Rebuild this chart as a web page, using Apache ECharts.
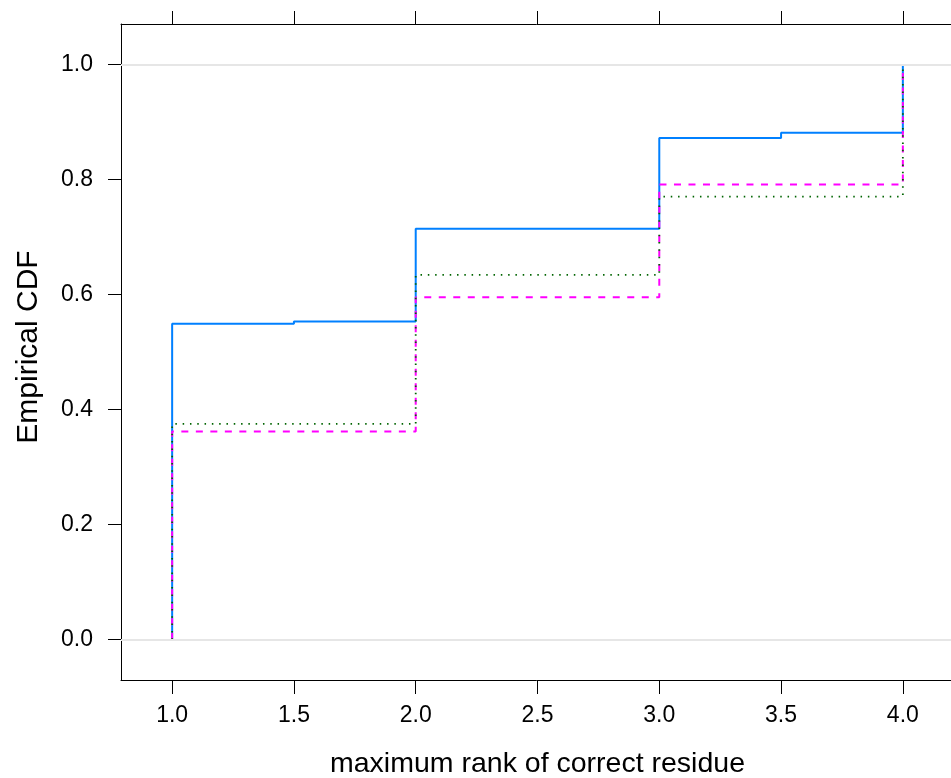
<!DOCTYPE html>
<html>
<head>
<meta charset="utf-8">
<script src="https://cdn.jsdelivr.net/npm/echarts@6/dist/echarts.min.js"></script>
<style>
  html, body { margin: 0; padding: 0; background: #ffffff; }
  #chart { width: 951px; height: 778px; }
</style>
</head>
<body>
<div id="chart"></div>
<script>
// Empirical CDF of the maximum rank of the correct residue, three groups.
// Each group: x positions where the CDF jumps, and the CDF level reached there.
const blueX = [1, 1, 1.5, 2, 3, 3.5, 4];
const blueCdf = [0, 0.549, 0.553, 0.714, 0.872, 0.881, 1.0];

const magentaX = [1, 1, 2, 3, 4];
const magentaCdf = [0, 0.362, 0.595, 0.791, 1.0];

const greenX = [1, 1, 2, 3, 4];
const greenCdf = [0, 0.375, 0.634, 0.770, 1.0];

const xTicks = [1.0, 1.5, 2.0, 2.5, 3.0, 3.5, 4.0];
const yTicks = [0.0, 0.2, 0.4, 0.6, 0.8, 1.0];
const refLevels = [0, 1];

const xTitle = 'maximum rank of correct residue';
const yTitle = 'Empirical CDF';

const pairs = (xs, ys) => xs.map((x, i) => [x, ys[i]]);

const font = '"Liberation Sans", Arial, Helvetica, sans-serif';
const axisLineStyle = { color: '#000000', width: 1 };

const chart = echarts.init(document.getElementById('chart'), null, { renderer: 'canvas' });

chart.setOption({
  animation: false,
  backgroundColor: '#ffffff',
  grid: { left: 121, top: 24, width: 833, height: 656, containLabel: false, outerBoundsMode: 'none' },
  xAxis: [
    {
      type: 'value', position: 'bottom', min: 0.79, max: 4.21,
      name: xTitle, nameLocation: 'middle', nameGap: 70,
      nameTextStyle: { fontFamily: font, fontSize: 28.5, color: '#000000' },
      axisLine: { show: true, onZero: false, lineStyle: axisLineStyle },
      axisTick: { show: true, inside: false, length: 14, customValues: xTicks, lineStyle: axisLineStyle },
      axisLabel: {
        show: true, margin: 24, customValues: xTicks,
        fontFamily: font, fontSize: 23, color: '#000000',
        formatter: v => Number(v).toFixed(1)
      },
      splitLine: { show: false }
    },
    {
      type: 'value', position: 'top', min: 0.79, max: 4.21,
      axisLine: { show: true, onZero: false, lineStyle: axisLineStyle },
      axisTick: { show: true, inside: false, length: 13, customValues: xTicks, lineStyle: axisLineStyle },
      axisLabel: { show: false },
      splitLine: { show: false }
    }
  ],
  yAxis: {
    type: 'value', min: -0.07, max: 1.07,
    name: yTitle, nameLocation: 'middle', nameGap: 77, nameRotate: 90,
    nameTextStyle: { fontFamily: font, fontSize: 30, color: '#000000', padding: [0, 0, 0, 10] },
    axisLine: { show: true, onZero: false, lineStyle: axisLineStyle },
    axisTick: { show: true, inside: false, length: 13, customValues: yTicks, lineStyle: axisLineStyle },
    axisLabel: {
      show: true, margin: 28, customValues: yTicks,
      fontFamily: font, fontSize: 23, color: '#000000',
      formatter: v => Number(v).toFixed(1)
    },
    splitLine: { show: false }
  },
  series: [
    {
      name: 'group 1', type: 'line', step: 'end', showSymbol: false,
      data: pairs(blueX, blueCdf),
      lineStyle: { color: '#0080ff', width: 2, type: 'solid' },
      markLine: {
        silent: true, symbol: 'none', label: { show: false },
        lineStyle: { color: '#e6e6e6', width: 2, type: 'solid' },
        data: refLevels.map(v => ({ yAxis: v }))
      },
      z: 2
    },
    {
      name: 'group 2', type: 'line', step: 'end', showSymbol: false,
      data: pairs(magentaX, magentaCdf),
      lineStyle: { color: '#ff00ff', width: 2, type: [7, 7.5] },
      z: 3
    },
    {
      name: 'group 3', type: 'line', step: 'end', showSymbol: false,
      data: pairs(greenX, greenCdf),
      lineStyle: { color: '#006400', width: 1.8, type: [1.5, 5.8] },
      z: 4
    }
  ]
});
</script>
</body>
</html>
